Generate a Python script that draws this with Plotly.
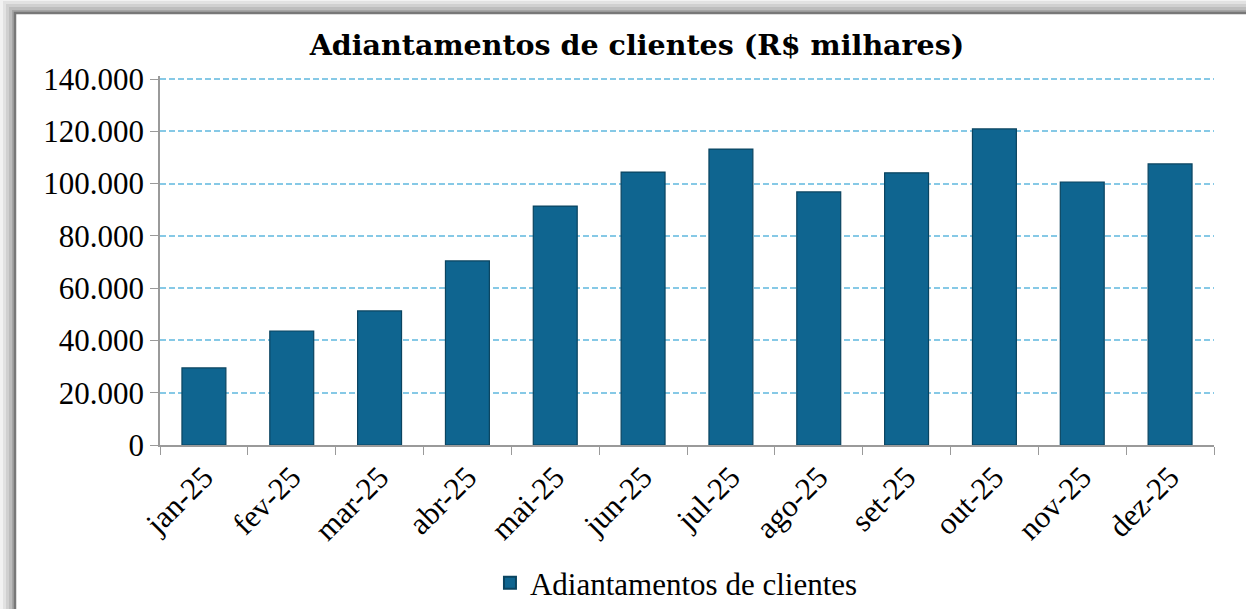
import plotly.graph_objects as go

categories = ["jan-25", "fev-25", "mar-25", "abr-25", "mai-25", "jun-25",
              "jul-25", "ago-25", "set-25", "out-25", "nov-25", "dez-25"]
values = [29500, 43600, 51300, 70400, 91400, 104400,
          113200, 96800, 104100, 120900, 100600, 107500]
series_name = "Adiantamentos de clientes"
title_text = "Adiantamentos de clientes (R$ milhares)"
y_ticks = [0, 20000, 40000, 60000, 80000, 100000, 120000, 140000]

W, H = 1246, 609
L, R, T, B = 160, 1214, 76, 445
Y_TOP_PX = 79  # pixel where 140.000 should sit
y_max = 140000 * (B - T) / (B - Y_TOP_PX)


def px_x(px):
    return (px - L) / (R - L)


def px_y(py):
    return (B - py) / (B - T)


fig = go.Figure()
fig.add_trace(go.Bar(
    x=categories, y=values, name=series_name,
    marker=dict(color="#0f6590", line=dict(color="#0a4460", width=1.2)),
    width=0.5,
))

shapes = []
# outer shadow gradient
for off, c in [(15, "#f2f2f2"), (12, "#e2e2e2"), (9, "#d0d0d0"), (6, "#bdbdbd"), (3, "#a6a6a6")]:
    shapes.append(dict(type="rect", xref="paper", yref="paper",
                       x0=px_x(15 - off), x1=px_x(1400), y0=px_y(13 - off), y1=px_y(800),
                       line=dict(width=0), fillcolor=c, layer="below"))
# frame
shapes.append(dict(type="rect", xref="paper", yref="paper",
                   x0=px_x(15), x1=px_x(1400), y0=px_y(13), y1=px_y(800),
                   line=dict(color="#787878", width=2.5), fillcolor="white", layer="below"))

fig.update_layout(
    width=W, height=H,
    paper_bgcolor="white", plot_bgcolor="rgba(0,0,0,0)",
    separators=",.",
    margin=dict(l=L, r=W - R, t=T, b=H - B),
    title=dict(text="<b>" + title_text + "</b>", x=637 / W, xanchor="center",
               y=1 - 45 / H, yanchor="middle",
               font=dict(family="DejaVu Serif", size=28.5, color="black")),
    font=dict(family="Liberation Serif", size=31, color="black"),
    showlegend=True,
    legend=dict(orientation="h", x=0.49, xanchor="center", y=1 - 583 / H, yanchor="middle",
                yref="container", font=dict(family="Liberation Serif", size=31),
                itemsizing="constant", itemwidth=30, bgcolor="rgba(0,0,0,0)"),
    shapes=shapes,
    bargap=0.5,
)
fig.update_xaxes(
    type="category", tickangle=-45, showgrid=False, automargin=False,
    showline=True, linecolor="#9a9a9a", linewidth=1.5,
    ticks="outside", tickson="boundaries", ticklen=8, tickcolor="#9a9a9a",
    tickfont=dict(family="Liberation Serif", size=31),
)
fig.update_yaxes(
    range=[0, y_max], tickvals=y_ticks, tickformat=",d", automargin=False,
    showgrid=True, gridcolor="#86c9e6", griddash="6px,3px", gridwidth=1.5,
    showline=True, linecolor="#9a9a9a", linewidth=1.5,
    ticks="outside", ticklen=8, tickcolor="#9a9a9a",
    zeroline=False,
    tickfont=dict(family="Liberation Serif", size=31),
)

fig.write_html("out.html", config={"displayModeBar": False},
               post_script="document.body.style.margin='0';")
